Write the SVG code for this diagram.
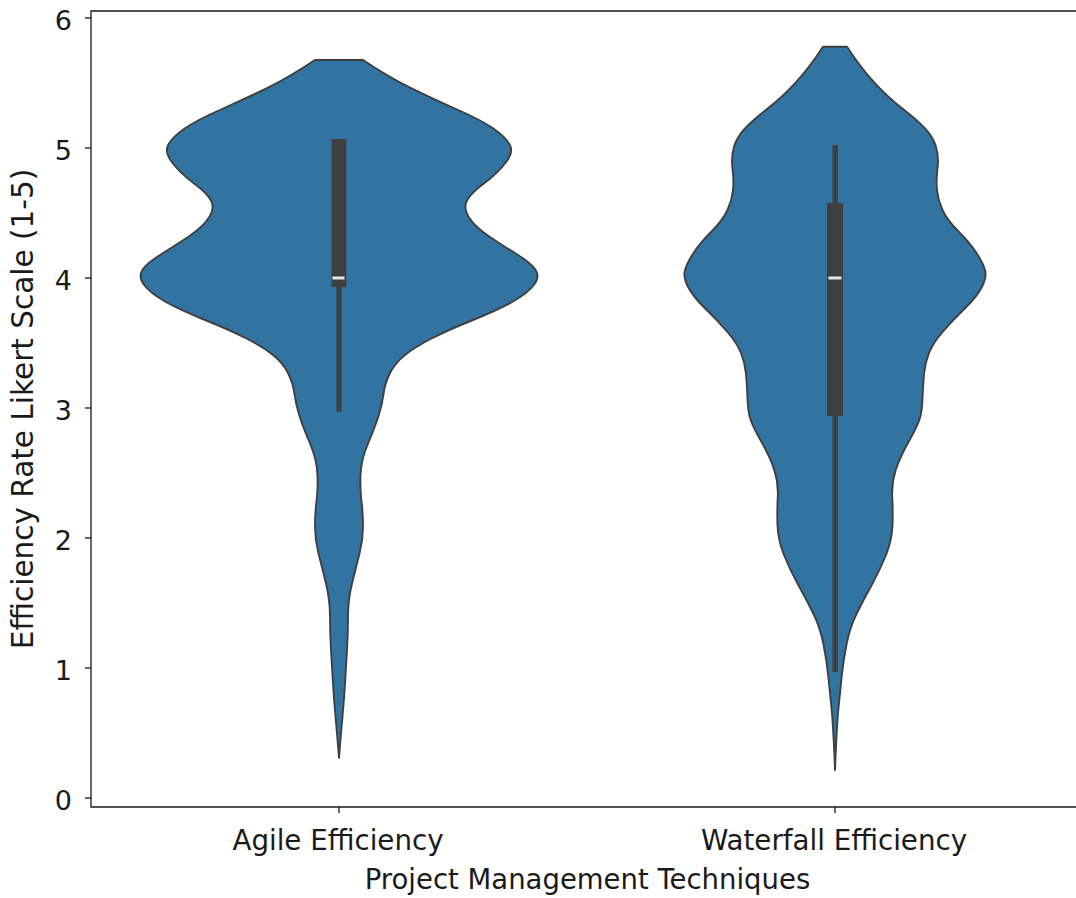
<svg xmlns="http://www.w3.org/2000/svg" width="1076" height="898" viewBox="0 0 1076 898">
<style>
.bg{fill:#ffffff}
.violin{fill:#3274a1;stroke:#3f3f3f;stroke-width:1.9;stroke-linejoin:round}
.box{fill:#3f3f3f}
.med{fill:#e6e6e6}
.spine{stroke:#1a1a1a;stroke-width:1.3;fill:none}
.tick{stroke:#1a1a1a;stroke-width:1.3}
.lbl{font-family:"DejaVu Sans",sans-serif;font-size:27px;fill:#1a1a1a}
.xl{font-size:27.7px}
.yl{font-size:29.5px}
</style>
<rect class="bg" x="0" y="0" width="1076" height="898"/>
<g id="axes">
<path class="spine" d="M91,11 L91,807 L1077,807 L1077,11 Z"/>
<g id="yticks">
<line class="tick" x1="85" y1="798" x2="91" y2="798"/>
<line class="tick" x1="85" y1="668" x2="91" y2="668"/>
<line class="tick" x1="85" y1="538" x2="91" y2="538"/>
<line class="tick" x1="85" y1="408" x2="91" y2="408"/>
<line class="tick" x1="85" y1="278" x2="91" y2="278"/>
<line class="tick" x1="85" y1="148" x2="91" y2="148"/>
<line class="tick" x1="85" y1="18" x2="91" y2="18"/>
<text class="lbl" x="72" y="809.5" text-anchor="end">0</text>
<text class="lbl" x="72" y="679.5" text-anchor="end">1</text>
<text class="lbl" x="72" y="549.5" text-anchor="end">2</text>
<text class="lbl" x="72" y="419.5" text-anchor="end">3</text>
<text class="lbl" x="72" y="289.5" text-anchor="end">4</text>
<text class="lbl" x="72" y="159.5" text-anchor="end">5</text>
<text class="lbl" x="72" y="29.5" text-anchor="end">6</text>
</g>
<g id="xticks">
<line class="tick" x1="339" y1="807" x2="339" y2="813"/>
<line class="tick" x1="835" y1="807" x2="835" y2="813"/>
<text class="lbl xl" x="338" y="850" text-anchor="middle">Agile Efficiency</text>
<text class="lbl xl" x="834" y="850" text-anchor="middle">Waterfall Efficiency</text>
</g>
<text class="lbl" style="font-size:27.5px" x="587.5" y="889" text-anchor="middle">Project Management Techniques</text>
<text class="lbl yl" transform="translate(33,409) rotate(-90)" x="0" y="0" text-anchor="middle">Efficiency Rate Likert Scale (1-5)</text>
</g>
<g id="agile">
<path class="violin" d="M315,60 Q290,76.7 268.5,87.3 Q247,98 222,109 Q197,120 185,128.3 Q173,136.7 168.5,144.2 Q164,151.7 172,162.3 Q180,173 193.5,183 Q207,193 211,200.5 Q215,208 209,217.5 Q203,227 188,237 Q173,247 160,255 Q147,263 142.5,269.8 Q138,276.7 144,284.8 Q150,293 165,301.5 Q180,310 205,320 Q230,330 246.5,338.5 Q263,347 273,355 Q283,363 288,373 Q293,383 294.5,394 Q296,405 299.5,416 Q303,427 310,443.5 Q317,460 317.5,475 Q318,490 316.5,501.5 Q315,513 315,526.5 Q315,540 318.5,553.5 Q322,567 326,583.5 Q330,600 330,616.5 Q330,633 331,650 Q332,667 333,683.5 Q334,700 335.5,716.5 Q337,733 339,758 Q341,733 342.5,716.5 Q344,700 345,683.5 Q346,667 347,650 Q348,633 348,616.5 Q348,600 352,583.5 Q356,567 359.5,553.5 Q363,540 363,526.5 Q363,513 361.5,501.5 Q360,490 360.5,475 Q361,460 368,443.5 Q375,427 378.5,416 Q382,405 383.5,394 Q385,383 390,373 Q395,363 405,355 Q415,347 431.5,338.5 Q448,330 473,320 Q498,310 513,301.5 Q528,293 534,284.8 Q540,276.7 535.5,269.8 Q531,263 518,255 Q505,247 490,237 Q475,227 469,217.5 Q463,208 467,200.5 Q471,193 484.5,183 Q498,173 506,162.3 Q514,151.7 509.5,144.2 Q505,136.7 493,128.3 Q481,120 456,109 Q431,98 409.5,87.3 Q388,76.7 363,60 Z"/>
<rect class="box" x="336.5" y="287" width="5" height="125"/>
<rect class="box" x="331.5" y="139" width="15" height="148"/>
<rect class="med" x="332.5" y="276.5" width="12" height="3"/>
</g>
<g id="waterfall">
<path class="violin" d="M823,46.7 Q810,66.7 796.5,81.7 Q783,96.7 768,108.3 Q753,120 745,128.3 Q737,136.7 734,146.7 Q731,156.7 732.5,168.3 Q734,180 733,190 Q732,200 727.5,210 Q723,220 711.5,231.5 Q700,243 693.5,253 Q687,263 685,270 Q683,277 688,286.8 Q693,296.7 705,308.3 Q717,320 727,331.5 Q737,343 741,353 Q745,363 746,374 Q747,385 747.5,398.5 Q748,412 750.5,419.5 Q753,427 761.5,442 Q770,457 774.3,470 Q778.5,483 777.8,496.5 Q777,510 777.5,525 Q778,540 784,555 Q790,570 798.3,585 Q806.7,600 813.3,613.5 Q820,627 823.3,643.5 Q826.7,660 828.3,676.5 Q830,693 831.7,710 Q833.3,727 835,770 Q836.7,727 838.3,710 Q840,693 841.7,676.5 Q843.3,660 846.7,643.5 Q850,627 856.7,613.5 Q863.3,600 871.7,585 Q880,570 886,555 Q892,540 892.5,525 Q893,510 892.2,496.5 Q891.5,483 895.7,470 Q900,457 908.5,442 Q917,427 919.5,419.5 Q922,412 922.5,398.5 Q923,385 924,374 Q925,363 929,353 Q933,343 943,331.5 Q953,320 965,308.3 Q977,296.7 982,286.8 Q987,277 985,270 Q983,263 976.5,253 Q970,243 958.5,231.5 Q947,220 942.5,210 Q938,200 937,190 Q936,180 937.5,168.3 Q939,156.7 936,146.7 Q933,136.7 925,128.3 Q917,120 902,108.3 Q887,96.7 873.5,81.7 Q860,66.7 847,46.7 Z"/>
<rect class="box" x="832.5" y="145" width="5.5" height="527"/>
<rect class="box" x="827" y="203" width="16" height="213"/>
<rect class="med" x="828.5" y="276.5" width="13" height="3"/>
</g>
</svg>
